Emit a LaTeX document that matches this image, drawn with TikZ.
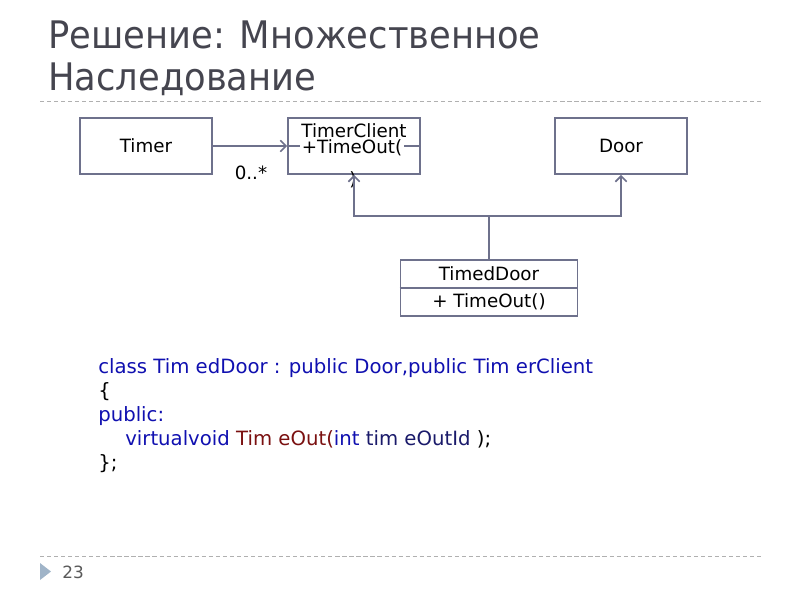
\documentclass[tikz,border=0pt]{standalone}
\usepackage{fontspec}
\setmainfont{DejaVu Sans}
\newfontfamily\titlefont[FakeStretch=0.93]{DejaVu Sans}
\newfontfamily\codefont{DejaVu Sans}
\usetikzlibrary{arrows.meta,positioning}
\definecolor{titlegray}{RGB}{69,69,79}
\definecolor{umlline}{RGB}{110,113,140}
\definecolor{rulegray}{RGB}{176,176,176}
\definecolor{kw}{RGB}{16,16,176}
\definecolor{fn}{RGB}{122,16,16}
\definecolor{ident}{RGB}{26,26,106}
\definecolor{bullet}{RGB}{160,180,200}

\tikzset{
  umlbox/.style={draw=umlline,line width=1.2pt,minimum width=3.3cm,minimum height=1.4cm,inner sep=0pt},
  umltext/.style={font=\fontsize{13}{15}\selectfont,inner sep=1pt},
  uml/.style={draw=umlline,line width=1.2pt,-{Straight Barb[length=4pt,width=8pt]}},
  rule/.style={draw=rulegray,line width=0.6pt,dash pattern=on 3pt off 2pt},
  titleline/.style={anchor=base west,inner sep=0pt,font=\titlefont\fontsize{27}{32}\selectfont,titlegray},
  codeline/.style={anchor=base west,inner sep=0pt,font=\codefont\fontsize{14}{17}\selectfont}
}

\begin{document}
\begin{tikzpicture}[x=0.025cm,y=-0.025cm]
  \useasboundingbox (0,0) rectangle (800,600);

  % title
  \node[titleline] (title1) at (48,48) {Решение: Множественное};
  \node[titleline] (title2) at (48,90) {Наследование};
  \draw[rule] (40,101) -- (762,101);

  % classes
  \node[umlbox] (timer) at (146,146) {};
  \node[umltext] at (timer) {Timer};
  \node[umlbox] (door) at (621,146) {};
  \node[umltext] at (door) {Door};

  \node[umlbox] (tclient) at (354,146) {};
  \draw[umlline,line width=1.2pt] (tclient.west) -- (tclient.east);
  \node[umltext] (tcname) at (354,131) {TimerClient};
  \node[umltext,fill=white] (tcop) at (352,148) {+TimeOut(};
  \node[umltext] (tcclose) at (353,180) {)};

  \node[umlbox,minimum width=4.43cm] (tdoor) at (489,288) {};
  \draw[umlline,line width=1.2pt] (tdoor.west) -- (tdoor.east);
  \node[umltext] (tdname) at (489,274) {TimedDoor};
  \node[umltext] (tdop) at (489,302) {+ TimeOut()};

  % connectors
  \draw[uml] (timer.east) -- (tclient.west);
  \node[umltext] (mult) at (251,173) {0..*};
  \coordinate (split) at (489,216);
  \draw[uml] (tdoor.north) -- (split) -| (tclient.south);
  \draw[uml] (split) -| (door.south);

  % code
  \node[codeline,kw] (code1) at (98,373) {class Tim edDoor : public Door,public Tim erClient};
  \node[codeline] (code2) at (98,397) {\{};
  \node[codeline,kw] (code3) at (98,421) {public:};
  \node[codeline] (code4) at (125,445)
    {\textcolor{kw}{virtualvoid} \textcolor{fn}{Tim eOut(}\textcolor{kw}{int} \textcolor{ident}{tim eOutId} );};
  \node[codeline] (code5) at (98,469) {\};};

  % footer
  \draw[rule] (40,556) -- (762,556);
  \fill[bullet] (40,563) -- (51,571.5) -- (40,580) -- cycle;
  \node[anchor=base west,inner sep=0pt,font=\fontsize{12}{14}\selectfont,black!65] (page) at (62,578) {23};
\end{tikzpicture}
\end{document}
